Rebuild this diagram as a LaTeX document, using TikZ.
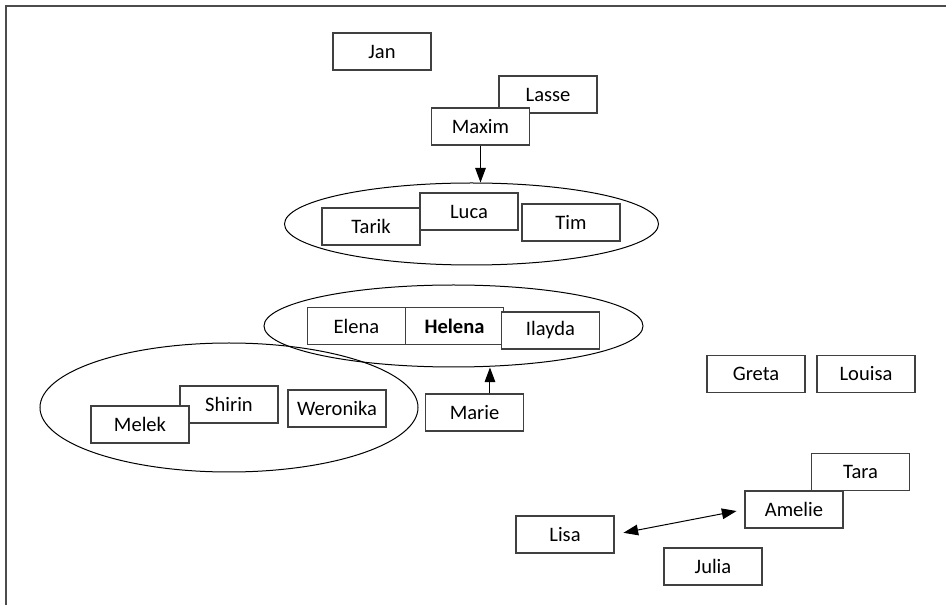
\documentclass[tikz,border=0pt]{standalone}
\usepackage{fontspec}
\setmainfont{Carlito}
\usetikzlibrary{shapes.geometric,arrows.meta}
\begin{document}
\begin{tikzpicture}[x=.75pt,y=-.75pt,>={Triangle[length=11pt,width=8pt]},
		kasten/.style={draw=black!75,line width=.9pt,fill=white,minimum width=73.5pt,minimum height=27.75pt,inner sep=0pt,font=\fontsize{15.4}{18}\selectfont},
		gruppe/.style={draw,ellipse,line width=.75pt,inner sep=0pt}]
			\useasboundingbox (0,0) rectangle (946,605);
			\draw[line width=1.5pt,black!70] (6,605)--(6,6)--(946,6);
			% gruppen
			\node[gruppe,minimum width=280.5pt,minimum height=61.5pt] (kreisluca) at (471.5,224) {};
			\node[gruppe,minimum width=284.25pt,minimum height=61.5pt] (kreishelena) at (453.5,326) {};
			\node[gruppe,minimum width=283.5pt,minimum height=96.75pt] (kreismelek) at (229,407.5) {};
			% kinder
			\foreach \n/\t/\x/\y in {jan/Jan/382/51.5,lasse/Lasse/548/94.5,maxim/Maxim/480.5/126.5,
				tarik/Tarik/371/226.5,luca/Luca/469/211.5,tim/Tim/571/222.5,elena/Elena/356.5/326}
			\node[kasten] (\n) at (\x,\y) {\t};
			\node[kasten,font=\fontsize{15.4}{18}\selectfont\bfseries] (helena) at (454.5,326) {Helena};
			\foreach \n/\t/\x/\y in {ilayda/Ilayda/550.5/330.5,marie/Marie/474.5/412.5,
				shirin/Shirin/229/404.5,melek/Melek/140/424.5,weronika/Weronika/337/408.5,
				greta/Greta/756/374,louisa/Louisa/866/374,tara/Tara/860.5/472,amelie/Amelie/794/509.5,
				lisa/Lisa/565/534.5,julia/Julia/713/566.5}
			\node[kasten] (\n) at (\x,\y) {\t};
			% pfeile
			\draw[line width=.75pt,->] (maxim.south) -- (maxim.south |- kreisluca.north);
			\draw[line width=.75pt,->] ([xshift=11.6pt]marie.north) -- ([xshift=11.6pt]marie.north |- kreishelena.south);
			\draw[line width=.75pt,<->,shorten <=6.75pt,shorten >=6pt] (lisa.east) -- (amelie.west);
		\end{tikzpicture}
\end{document}
